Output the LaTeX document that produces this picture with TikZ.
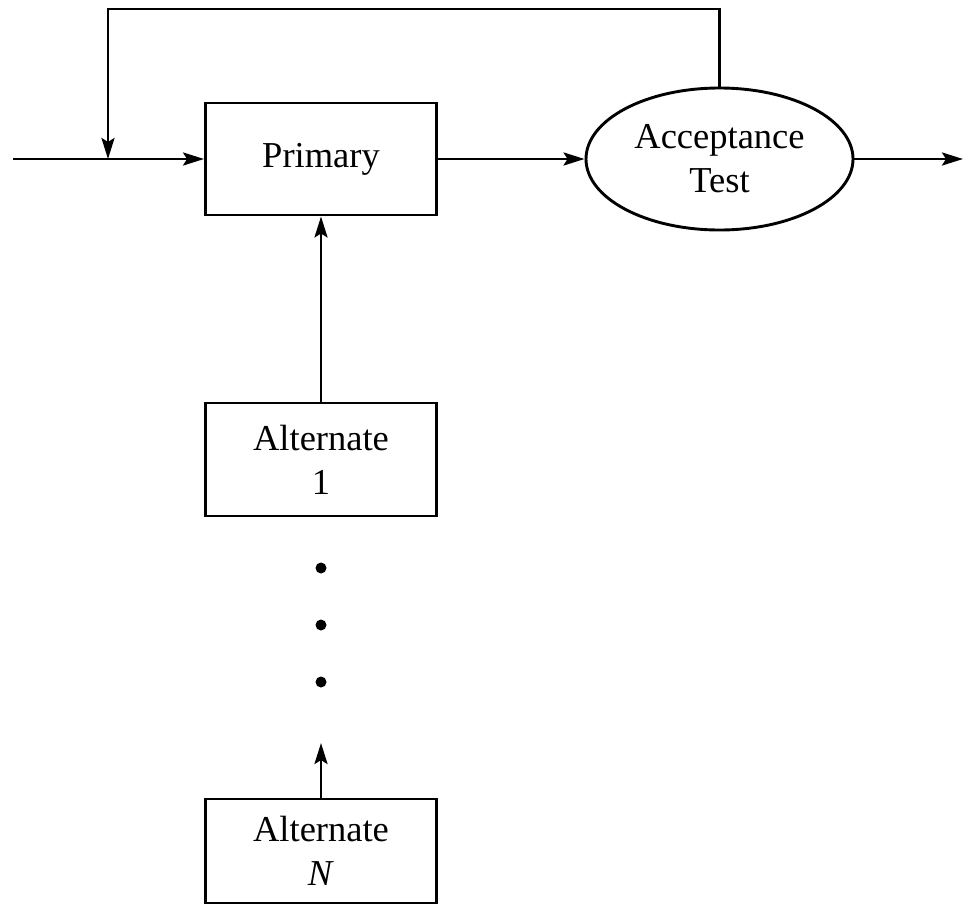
\documentclass[tikz,border=0pt]{standalone}
\usepackage{fontspec}
\setmainfont{Liberation Serif}
\usetikzlibrary{arrows.meta,shapes.geometric}
\begin{document}
\begin{tikzpicture}[x=1pt,y=-1pt,
  line width=2.9pt,
  font=\fontsize{36.5}{44}\selectfont,
  tip/.style={-{Stealth[length=21pt,width=13pt,inset=4pt]}},
  block/.style={draw,rectangle,inner sep=0pt,align=center,minimum width=231pt},
  oval/.style={draw,ellipse,inner sep=0pt,align=center,minimum width=267pt,minimum height=142pt},
  dotmark/.style={circle,fill,inner sep=0pt,minimum size=11pt}]
\useasboundingbox (0,0) rectangle (965,913);

% blocks
\node[block,minimum height=112pt] (primary) at (321,159) {Primary};
\node[oval] (accept) at (719.5,159) {Acceptance\\Test};
\node[block,minimum height=113pt] (alt1) at (321,459.5) {Alternate\\1};
\node[block,minimum height=104pt] (altN) at (321,851) {Alternate\\\textit{N}};

% ellipsis between the alternates
\node[dotmark] (d1) at (321,568) {};
\node[dotmark] (d2) at (321,625) {};
\node[dotmark] (d3) at (321,682) {};

% free ends
\coordinate (in) at (13,159);
\coordinate (out) at (963,159);
\coordinate (join) at (108,159);
\coordinate (fbtop) at (719.5,9);
\coordinate (fbleft) at (108,9);
\coordinate (upend) at (321,743);

% main flow
\draw[tip] (in) -- (primary.west);
\draw[tip] (primary.east) -- (accept.west);
\draw[tip] (accept.east) -- (out);

% retry loop from the acceptance test back to the input
\draw[tip] (accept.north) -- (fbtop) -- (fbleft) -- (join);

% alternates feeding upward
\draw[tip] (alt1.north) -- (primary.south);
\draw[tip] (altN.north) -- (upend);
\end{tikzpicture}
\end{document}
